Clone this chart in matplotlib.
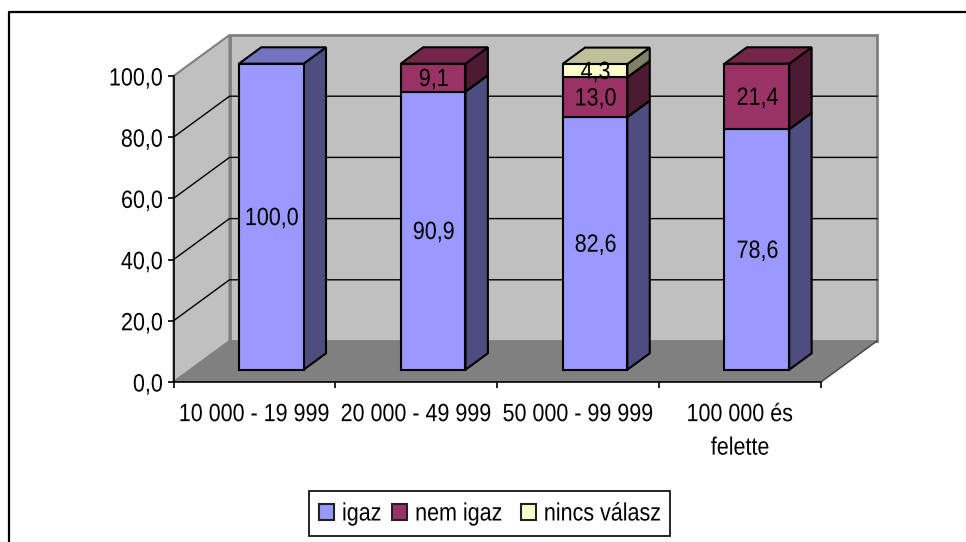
#!/usr/bin/env python3
"""Stacked 3D-look column chart, drawn in 2D with a depth offset."""

import matplotlib
matplotlib.use("Agg")
import matplotlib.pyplot as plt
from matplotlib.patches import Patch, Polygon, Rectangle
from matplotlib.patheffects import AbstractPathEffect
from matplotlib.transforms import Affine2D

CATEGORIES = ["10 000 - 19 999", "20 000 - 49 999", "50 000 - 99 999", "100 000 és\nfelette"]
SERIES = ["igaz", "nem igaz", "nincs válasz"]
IGAZ = [100.0, 90.9, 82.6, 78.6]
NEM_IGAZ = [0.0, 9.1, 13.0, 21.4]
NINCS = [0.0, 0.0, 4.3, 0.0]
YTICKS = [0, 20, 40, 60, 80, 100]

# front, top, side shades per series
SHADES = [
    ("#9999FF", "#7373BF", "#4D4D80"),
    ("#993366", "#732649", "#4D1A33"),
    ("#FFFFCC", "#BFBF99", "#808066"),
]

W, H = 966, 542
LEFT, RIGHT, TOP, BOTTOM = 173.5, 821.0, 76.0, 382.0
# depth of the chart box in data units
DX = 56 / (RIGHT - LEFT) * 4
DY = 41 / (BOTTOM - TOP) * 100
BAR_W = 0.4
D0, D1 = 0.3, 0.7

FONT = "Liberation Sans"
FS = 18
NARROW = 0.86


class Squeeze(AbstractPathEffect):
    """Narrow the glyphs sideways, no condensed font is installed."""

    def __init__(self, anchor="center"):
        super().__init__()
        self.anchor = anchor

    def draw_path(self, renderer, gc, tpath, affine, rgbFace=None):
        xs = tpath.vertices[:, 0]
        if len(xs) == 0:
            return
        c = {"center": (xs.min() + xs.max()) / 2, "right": xs.max(), "left": 0}[self.anchor]
        t = Affine2D().translate(-c, 0).scale(NARROW, 1).translate(c, 0) + affine
        renderer.draw_path(gc, tpath, t, rgbFace)


def shift(x, y, d):
    return (x + d * DX, y + d * DY)


def box(ax, x0, x1, y0, y1, shades):
    front, top, side = shades
    kw = dict(edgecolor="black", linewidth=1.5, joinstyle="miter", clip_on=False, zorder=4)
    ax.add_patch(Polygon([shift(x1, y0, D0), shift(x1, y0, D1), shift(x1, y1, D1), shift(x1, y1, D0)],
                         facecolor=side, **kw))
    ax.add_patch(Polygon([shift(x0, y1, D0), shift(x1, y1, D0), shift(x1, y1, D1), shift(x0, y1, D1)],
                         facecolor=top, **kw))
    ax.add_patch(Polygon([shift(x0, y0, D0), shift(x1, y0, D0), shift(x1, y1, D0), shift(x0, y1, D0)],
                         facecolor=front, **kw))


def main():
    fig = plt.figure(figsize=(W / 100, H / 100), dpi=100)
    fig.patch.set_facecolor("white")
    ax = fig.add_axes([LEFT / W, 1 - BOTTOM / H, (RIGHT - LEFT) / W, (BOTTOM - TOP) / H])
    ax.set_xlim(0, 4)
    ax.set_ylim(0, 100)
    ax.patch.set_visible(False)

    # outer frame, only left and top are inside the picture
    fig.add_artist(plt.Line2D([9 / W, 9 / W, 1], [0, 1 - 12 / H, 1 - 12 / H],
                              color="black", linewidth=1.6))

    # walls and floor
    grey = "#808080"
    ax.add_patch(Polygon([(0, 0), shift(0, 0, 1), shift(0, 100, 1), (0, 100)],
                         facecolor="#C0C0C0", edgecolor=grey, linewidth=1.5, clip_on=False, zorder=1))
    ax.add_patch(Polygon([shift(0, 0, 1), shift(4, 0, 1), shift(4, 100, 1), shift(0, 100, 1)],
                         facecolor="#C0C0C0", edgecolor=grey, linewidth=2, clip_on=False, zorder=1))
    ax.add_patch(Polygon([(0, 0), (4, 0), shift(4, 0, 1), shift(0, 0, 1)],
                         facecolor=grey, edgecolor="none", clip_on=False, zorder=1.5))
    ax.plot([4, shift(4, 0, 1)[0]], [0, shift(4, 0, 1)[1]], color="#404040", linewidth=1,
            clip_on=False, zorder=1.6)

    # gridlines on side and back wall
    for v in YTICKS[1:-1]:
        xs = [0, shift(0, v, 1)[0], shift(4, v, 1)[0]]
        ys = [v, shift(0, v, 1)[1], shift(4, v, 1)[1]]
        ax.plot(xs, ys, color="black", linewidth=1, clip_on=False, zorder=2)

    # stacked columns, left to right so the faces overlap correctly
    for i, label in enumerate(CATEGORIES):
        x0 = i + 0.5 - BAR_W / 2
        x1 = i + 0.5 + BAR_W / 2
        base = 0.0
        for vals, shades in zip((IGAZ, NEM_IGAZ, NINCS), SHADES):
            v = vals[i]
            if v > 0:
                box(ax, x0, x1, base, base + v, shades)
                t = ax.annotate(f"{v:.1f}".replace(".", ","), shift(i + 0.5, base + v / 2, D0),
                                xytext=(0.5, -1), textcoords="offset points", ha="center", va="center",
                                family=FONT, fontsize=FS, color="black", zorder=6,
                                annotation_clip=False)
                t.set_path_effects([Squeeze()])
                base += v

    for s in ("top", "right"):
        ax.spines[s].set_visible(False)
    for s in ("left", "bottom"):
        ax.spines[s].set_linewidth(1.2)
        ax.spines[s].set_zorder(3)

    ax.set_yticks(YTICKS)
    ax.set_yticklabels([f"{v:.1f}".replace(".", ",") for v in YTICKS], family=FONT, fontsize=FS)
    for t in ax.get_yticklabels():
        t.set_path_effects([Squeeze("right")])
    ax.set_xticks(range(5))
    ax.set_xticklabels([])
    ax.tick_params(axis="both", length=4.5, width=1.2, pad=3)
    for i, label in enumerate(CATEGORIES):
        t = ax.annotate(label, (i + 0.5, 0), xytext=(0, -14.5), textcoords="offset points",
                        ha="center", va="top", family=FONT, fontsize=FS, linespacing=1.5,
                        annotation_clip=False)
        t.set_path_effects([Squeeze()])

    # legend box is drawn on its own, the squeezed text is narrower than the layout thinks
    fig.add_artist(Rectangle((309 / W, 1 - 536 / H), 361 / W, 45 / H, transform=fig.transFigure,
                             facecolor="white", edgecolor="black", linewidth=1.2))
    handles = [Patch(facecolor=s[0], edgecolor="#222222", linewidth=1.5, label=n)
               for s, n in zip(SHADES, SERIES)]
    leg = fig.legend(handles=handles, ncol=3, loc="center left", bbox_to_anchor=(319 / W, 1 - 513.5 / H),
                     prop={"family": FONT, "size": FS}, frameon=False,
                     handlelength=0.6, handleheight=0.6, handletextpad=0.32,
                     columnspacing=0.18, borderpad=0, borderaxespad=0)
    for t in leg.get_texts():
        t.set_path_effects([Squeeze("left")])

    fig.savefig("out.png", dpi=100)


if __name__ == "__main__":
    main()
